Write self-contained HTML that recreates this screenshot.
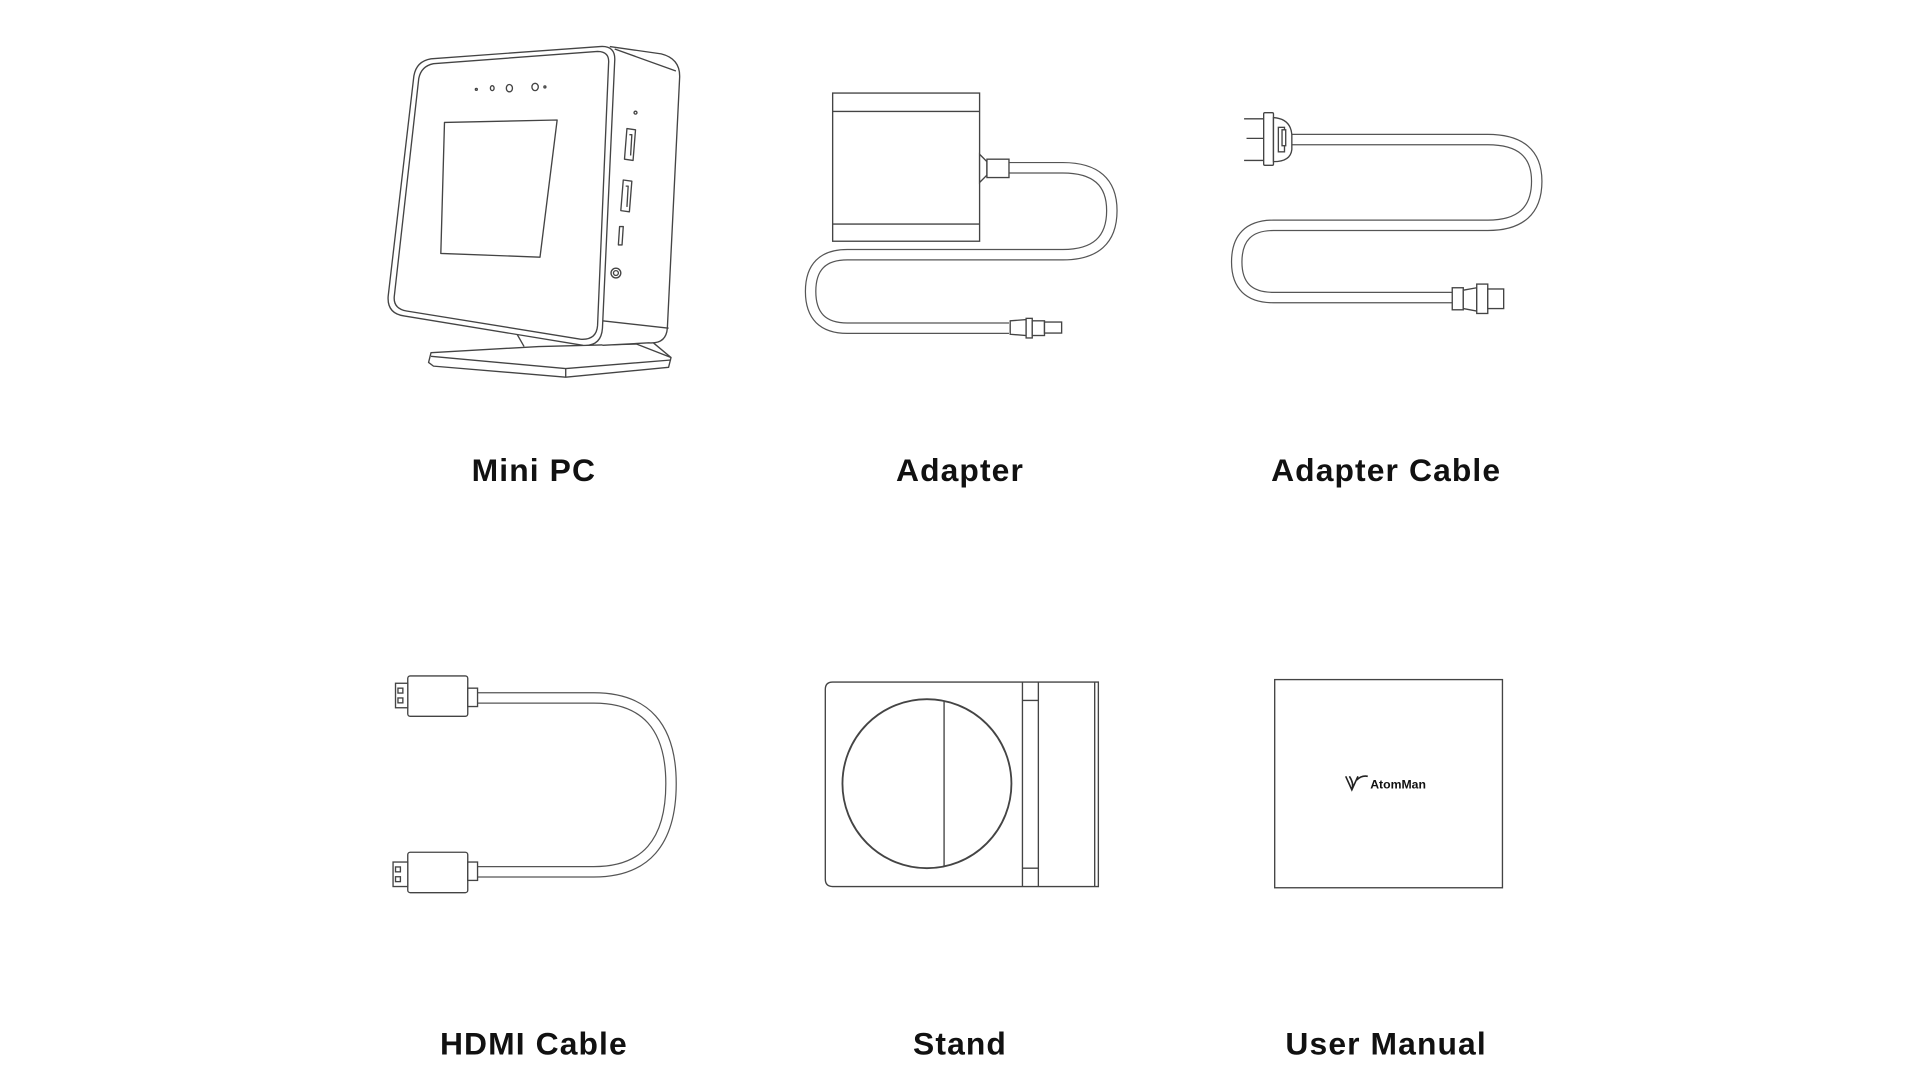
<!DOCTYPE html>
<html><head><meta charset="utf-8"><style>
html,body{margin:0;padding:0;background:#fff;width:1920px;height:1080px;overflow:hidden}
svg{display:block}
text{font-family:"Liberation Sans",sans-serif;font-weight:bold;fill:#111}
</style></head><body>
<svg width="1920" height="1080" viewBox="0 0 1568 882" xmlns="http://www.w3.org/2000/svg">
<g fill="none" stroke="#444" stroke-width="1.1" stroke-linejoin="round">
<!-- Mini PC -->
<path d="M350 296 L352 288 L440 283 L520 281 L548 292 L546 300 L462 308 L354 299 Z" fill="#fff"/>
<path d="M352 291 L462 301 L548 294"/>
<path d="M462 301 L462 308"/>
<path d="M420 269 L428 283 M530 277 L548 292"/>
<path d="M498 38 L540 44 Q556 48 555 64 L545 268 Q544 281 530 280 L492 282" fill="#fff"/>
<path d="M502 40 L552 58"/>
<path d="M492 262 L546 268"/>
<path d="M352 48 L490 38 Q503 37 502 50 L492 268 Q491 283 476 282 L330 258 Q316 256 317 242 L338 62 Q340 50 352 48 Z" fill="#fff"/>
<path d="M354 52 L488 42 Q498 42 497 52 L488 266 Q487 278 474 277 L332 254 Q321 252 322 242 L342 64 Q344 54 354 52 Z"/>
<path d="M363 100 L455 98 L441 210 L360 207 Z"/>
<circle cx="389" cy="73" r="0.8"/><ellipse cx="402" cy="72" rx="1.5" ry="2"/><ellipse cx="416" cy="72" rx="2.5" ry="3"/><ellipse cx="437" cy="71" rx="2.6" ry="3"/><circle cx="445" cy="71" r="0.8"/>
<circle cx="519" cy="92" r="1.2"/>
<path d="M512 105 L519 106 L517 131 L510 130 Z M514 110 L516 110 L515 127"/>
<path d="M509 147 L516 148 L514 173 L507 172 Z M511 152 L513 152 L512 169"/>
<path d="M506 185 L509 185 L508 200 L505 200 Z"/>
<circle cx="503" cy="223" r="4"/><circle cx="503" cy="223" r="2"/>
</g>
<!-- cables: double outline -->
<g fill="none" stroke-linecap="butt" stroke-linejoin="round">
<g stroke="#555" stroke-width="9.5">
<path d="M822 137 L868 137 Q908 137 908 172 Q908 208 868 208 L692 208 Q662 208 662 238 Q662 268 692 268 L824 268"/>
<path d="M1048 114 L1215 114 Q1255 114 1255 148 Q1255 184 1215 184 L1040 184 Q1010 184 1010 214 Q1010 243 1040 243 L1186 243"/>
<path d="M388 570 L485 570 Q548 570 548 640 Q548 712 485 712 L388 712"/>
</g>
<g stroke="#fff" stroke-width="7.5">
<path d="M822 137 L868 137 Q908 137 908 172 Q908 208 868 208 L692 208 Q662 208 662 238 Q662 268 692 268 L826 268"/>
<path d="M1046 114 L1215 114 Q1255 114 1255 148 Q1255 184 1215 184 L1040 184 Q1010 184 1010 214 Q1010 243 1040 243 L1188 243"/>
<path d="M386 570 L485 570 Q548 570 548 640 Q548 712 485 712 L386 712"/>
</g>
</g>
<g fill="#fff" stroke="#444" stroke-width="1.1">
<!-- Adapter -->
<rect x="680" y="76" width="120" height="121"/>
<path d="M680 91 H800 M680 183 H800" fill="none"/>
<path d="M800 126 L806 132 L806 143 L800 149 Z"/>
<rect x="806" y="130" width="18" height="15"/>
<path d="M825 262 L838 261 L838 274 L825 273 Z"/>
<rect x="838" y="260" width="5" height="16"/>
<rect x="843" y="262" width="10" height="12"/>
<rect x="853" y="263" width="14" height="9"/>
<!-- Adapter cable -->
<path d="M1016 97 H1032 M1018 113 H1032 M1016 131 H1032" fill="none"/>
<rect x="1032" y="92" width="8" height="43" rx="1"/>
<path d="M1040 96 Q1054 97 1055 110 L1055 122 Q1054 132 1040 132 Z"/>
<rect x="1044" y="104" width="5" height="20"/><rect x="1047" y="106" width="3" height="13"/>
<rect x="1186" y="235" width="9" height="18"/>
<path d="M1195 237 L1206 235 L1206 254 L1195 252 Z"/>
<rect x="1206" y="232" width="9" height="24"/>
<rect x="1215" y="236" width="13" height="16"/>
<!-- HDMI -->
<rect x="333" y="552" width="49" height="33" rx="2"/>
<rect x="382" y="562" width="8" height="15"/>
<rect x="323" y="558" width="10" height="20"/>
<rect x="325" y="562" width="4" height="4"/><rect x="325" y="570" width="4" height="4"/>
<rect x="333" y="696" width="49" height="33" rx="2"/>
<rect x="382" y="704" width="8" height="15"/>
<rect x="321" y="704" width="12" height="20"/>
<rect x="323" y="708" width="4" height="4"/><rect x="323" y="716" width="4" height="4"/>
<!-- Stand -->
<path d="M680 557 H897 V724 H680 Q674 724 674 718 V563 Q674 557 680 557 Z"/>
<path d="M835 557 V724 M848 557 V724 M835 572 H848 M835 709 H848 M894 557 V724" fill="none"/>
<circle cx="757" cy="640" r="69" stroke-width="1.5"/>
<path d="M771 573 V708" fill="none"/>
<!-- Manual -->
<rect x="1041" y="555" width="186" height="170"/>
</g>
<g fill="none" stroke="#222" stroke-width="1.3">
<path d="M1099 634 L1104 645 L1109 634 M1102 634 Q1106 640 1104 645 M1108 637 Q1112 633 1117 634"/>
</g>
<text x="1119" y="644" font-size="10">AtomMan</text>
<g font-size="26" text-anchor="middle" letter-spacing="0.9">
<text x="436" y="393">Mini PC</text>
<text x="784" y="393">Adapter</text>
<text x="1132" y="393">Adapter Cable</text>
<text x="436" y="861">HDMI Cable</text>
<text x="784" y="861">Stand</text>
<text x="1132" y="861">User Manual</text>
</g>
</svg>
</body></html>
